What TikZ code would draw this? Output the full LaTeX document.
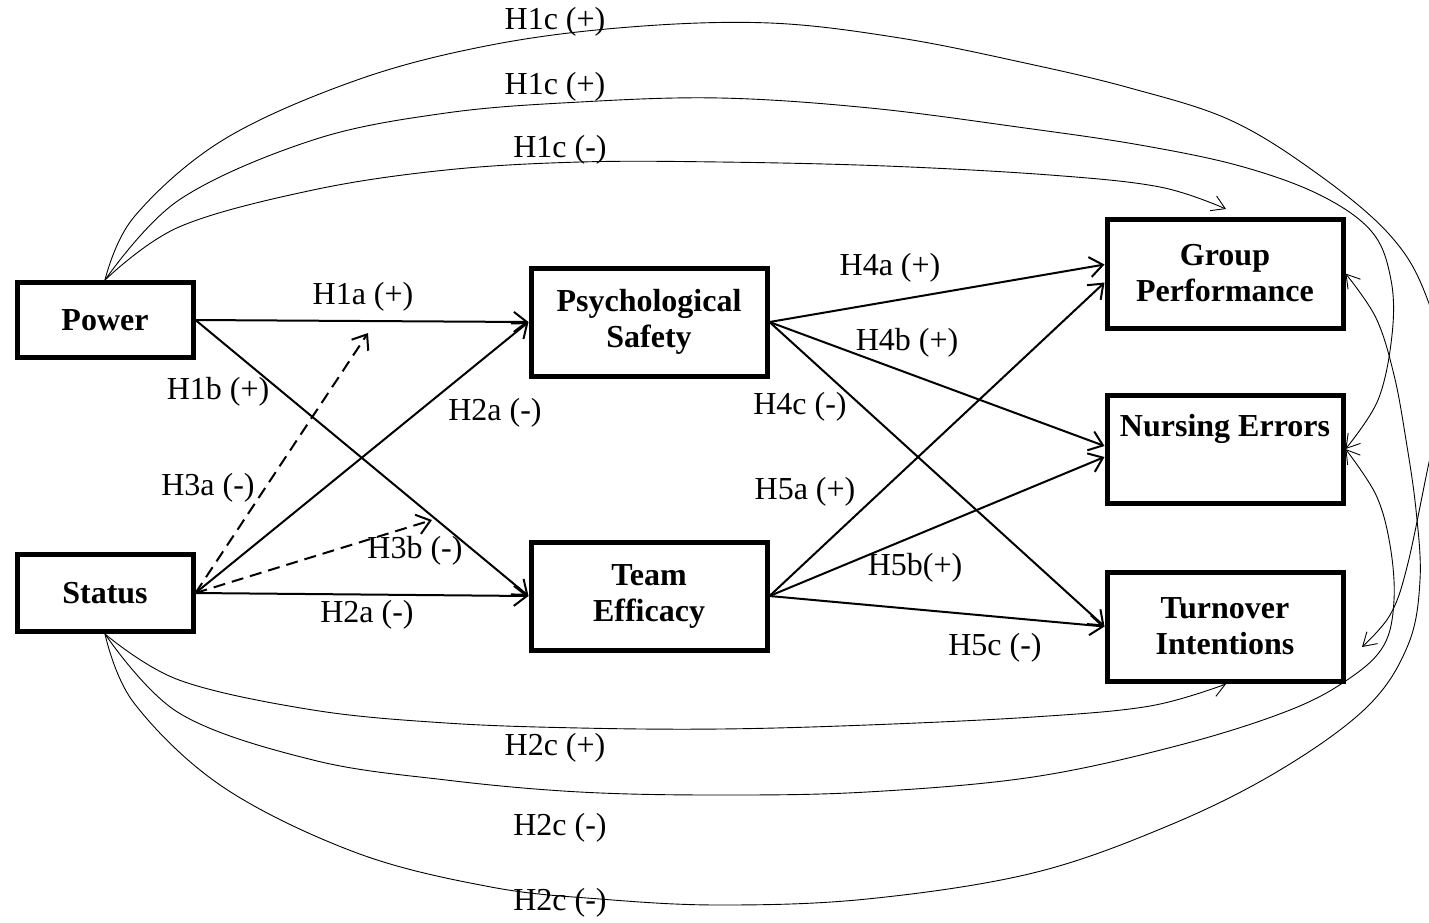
\documentclass[tikz,border=0pt]{standalone}
\usepackage{fontspec}
\setmainfont{Liberation Serif}
\usetikzlibrary{arrows.meta,calc}
\begin{document}
\begin{tikzpicture}[x=1pt,y=-1pt,
  box/.style={draw, line width=5pt, minimum width=236pt, minimum height=108pt, align=center, font=\fontsize{32}{36}\selectfont\bfseries, inner sep=0pt},
  sbox/.style={box, minimum width=176pt, minimum height=75pt},
  lbl/.style={font=\fontsize{32}{36}\selectfont, inner sep=0pt},
  main/.style={line width=2pt, -{Straight Barb[length=13pt,width=20pt,line width=2pt]}},
  dsh/.style={main, dash pattern=on 12pt off 7pt},
  curve/.style={line width=0.9pt, -{Straight Barb[length=13pt,width=16pt,line width=0.9pt]}}
]
\useasboundingbox (0,0) rectangle (1429,922);

% boxes
\node[sbox] (P) at (105,320) {Power};
\node[sbox, minimum height=77pt] (S) at (105,593) {Status};
\node[box] (PS) at (649,322) {Psychological\\Safety};
\node[box] (TE) at (649,596) {Team\\Efficacy};
\node[box, minimum height=109pt] (GP) at (1225,273.5) {Group\\Performance};
\node[box] (NE) at (1225,449) {Nursing Errors\\\strut};
\node[box, minimum height=109pt] (TI) at (1225,626.5) {Turnover\\Intentions};

% free ends
\coordinate (h3a) at (368,333);
\coordinate (h3b) at (432,520);
\coordinate (gpt) at (1226,209);
\coordinate (tir) at (1362,647);
\coordinate (tib) at (1226,684);

% straight paths
\draw[main] (P.east) -- (PS.west);
\draw[main] (P.east) -- (TE.west);
\draw[main] (S.east) -- (PS.west);
\draw[main] (S.east) -- (TE.west);
\draw[dsh] (S.east) -- (h3a);
\draw[dsh] (S.east) -- (h3b);
\draw[main] (PS.east) -- ($(GP.west)+(0,-9)$);
\draw[main] (PS.east) -- ($(NE.west)+(0,-3)$);
\draw[main] (PS.east) -- (TI.west);
\draw[main] (TE.east) -- ($(GP.west)+(0,9)$);
\draw[main] (TE.east) -- ($(NE.west)+(0,8)$);
\draw[main] (TE.east) -- (TI.west);

% curved paths
\begin{scope}
\clip (0,0) rectangle (1429,922);
\draw[curve] plot[smooth, tension=0.6] coordinates {(P.north) (134,217) (223,140) (357,80) (491,45) (630,27) (770,23) (900,38) (1025,63) (1130,88) (1230,120) (1315,172) (1388,233) (1425,293) (1446,380) (1428,467) (1407,567) (1390,615) (tir)};
\draw[curve] plot[smooth, tension=0.6] coordinates {(P.north) (179,200) (313,140) (446,113) (580,102) (720,98) (870,108) (1025,128) (1140,145) (1240,166) (1320,195) (1372,232) (1391,280) (1392,335) (1378,400) (NE.east)};
\draw[curve] plot[smooth, tension=0.6] coordinates {(P.north) (179,227) (313,190) (446,170) (580,162) (720,162) (886,166) (1050,175) (1160,187) (gpt)};
\draw[curve] plot[smooth, tension=0.6] coordinates {(S.south) (179,680) (313,710) (446,723) (580,728) (720,729) (867,725) (1033,717) (1150,706) (tib)};
\draw[curve] plot[smooth, tension=0.6] coordinates {(S.south) (179,713) (313,760) (446,780) (580,792) (720,795) (867,792) (1033,777) (1180,745) (1290,710) (1350,678) (1384,645) (1394,600) (1390,545) (1376,495) (NE.east)};
\draw[curve] plot[smooth, tension=0.6] coordinates {(S.south) (134,703) (223,787) (357,853) (491,887) (600,899) (720,905) (867,899) (1033,873) (1170,825) (1280,770) (1367,707) (1408,645) (1420,580) (1416,510) (1406,440) (1394,375) (1376,318) (GP.east)};
\end{scope}

% labels
\node[lbl] (l1) at (555,22) {H1c (+)};
\node[lbl] (l2) at (555,87) {H1c (+)};
\node[lbl] (l3) at (560,150) {H1c (-)};
\node[lbl] (l4) at (363,297) {H1a (+)};
\node[lbl] (l5) at (218,392) {H1b (+)};
\node[lbl] (l6) at (495,413) {H2a (-)};
\node[lbl] (l7) at (208,488) {H3a (-)};
\node[lbl] (l8) at (415,551) {H3b (-)};
\node[lbl] (l9) at (367,615) {H2a (-)};
\node[lbl] (l10) at (890,268) {H4a (+)};
\node[lbl] (l11) at (907,343) {H4b (+)};
\node[lbl] (l12) at (800,407) {H4c (-)};
\node[lbl] (l13) at (805,492) {H5a (+)};
\node[lbl] (l14) at (915,568) {H5b(+)};
\node[lbl] (l15) at (995,648) {H5c (-)};
\node[lbl] (l16) at (555,748) {H2c (+)};
\node[lbl] (l17) at (560,828) {H2c (-)};
\node[lbl] (l18) at (560,903) {H2c (-)};
\end{tikzpicture}
\end{document}
